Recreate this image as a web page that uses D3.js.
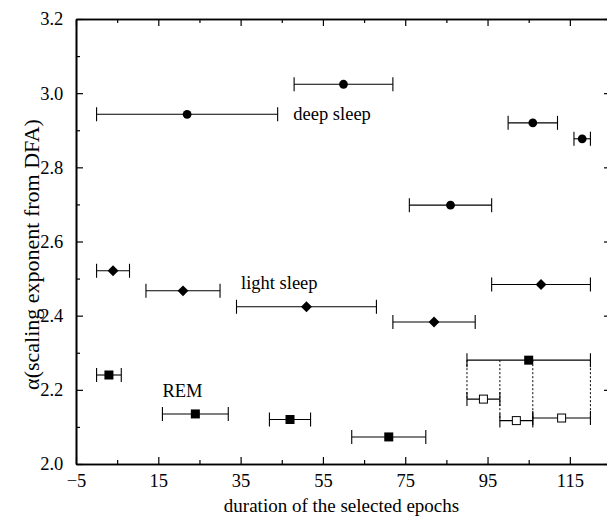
<!DOCTYPE html>
<html>
<head>
<meta charset="utf-8">
<script src="https://cdn.jsdelivr.net/npm/d3@7"></script>
<style>
  body { margin: 0; background: #fff; }
  svg text { font-family: "Liberation Serif", "Times New Roman", Times, serif; fill: #000; }
</style>
</head>
<body>
<div class="chart"></div>
<script>
// deep sleep epochs (filled circles)
const deepDuration = [22, 60, 106, 118, 86];
const deepAlpha    = [2.943, 3.024, 2.920, 2.877, 2.698];
const deepLo       = [0, 48, 100, 116, 76];
const deepHi       = [44, 72, 112, 120, 96];

// light sleep epochs (diamonds)
const lightDuration = [4, 21, 51, 82, 108];
const lightAlpha    = [2.521, 2.467, 2.424, 2.383, 2.484];
const lightLo       = [0, 12, 34, 72, 96];
const lightHi       = [8, 30, 68, 92, 120];

// REM epochs (filled squares)
const remDuration = [3, 24, 47, 71, 105];
const remAlpha    = [2.240, 2.135, 2.120, 2.073, 2.280];
const remLo       = [0, 16, 42, 62, 90];
const remHi       = [6, 32, 52, 80, 120];

// last REM epoch split into parts (open squares)
const subDuration = [94, 102, 113];
const subAlpha    = [2.175, 2.117, 2.124];
const subLo       = [90, 98, 106];
const subHi       = [98, 106, 120];

const xMajor = [-5, 15, 35, 55, 75, 95, 115];
const xMinor = [5, 25, 45, 65, 85, 105, 125];
const yMajor = [2.0, 2.2, 2.4, 2.6, 2.8, 3.0, 3.2];
const yMinor = [2.1, 2.3, 2.5, 2.7, 2.9, 3.1];

const labels = [
    {text: 'deep sleep', x: 47.8, y: 2.945},
    {text: 'light sleep', x: 35.1, y: 2.489},
    {text: 'REM', x: 16, y: 2.197}
];

const w = 607, h = 516;
const m = {left: 76, top: 19, right: 611, bottom: 464};

const svg = d3.select('.chart').append('svg')
    .attr('width', w)
    .attr('height', h);

const x = d3.scaleLinear().domain([-5, 125]).range([m.left, m.right]);
const y = d3.scaleLinear().domain([2.0, 3.2]).range([m.bottom, m.top]);

function zip(dur, a, lo, hi) {
    return dur.map((d, i) => ({dur: d, a: a[i], lo: lo[i], hi: hi[i]}));
}
const deep = zip(deepDuration, deepAlpha, deepLo, deepHi);
const light = zip(lightDuration, lightAlpha, lightLo, lightHi);
const rem = zip(remDuration, remAlpha, remLo, remHi);
const sub = zip(subDuration, subAlpha, subLo, subHi);

// axes, ticks pointing inwards
function styleAxis(g) {
    g.attr('font-family', null);
    g.selectAll('path.domain').attr('stroke', '#000').attr('stroke-width', 1.6);
    g.selectAll('.tick line').attr('stroke', '#000').attr('stroke-width', 1.2);
    g.selectAll('.tick text').style('font-size', '18.5px').attr('fill', '#000');
}

svg.append('g')
    .attr('transform', 'translate(0,' + m.bottom + ')')
    .call(d3.axisBottom(x).tickValues(xMajor).tickFormat(d3.format('d'))
        .tickSize(-7).tickSizeOuter(0).tickPadding(9.5))
    .call(styleAxis);
svg.append('g')
    .attr('transform', 'translate(0,' + m.bottom + ')')
    .call(d3.axisBottom(x).tickValues(xMinor).tickFormat('').tickSize(-4).tickSizeOuter(0))
    .call(styleAxis);
svg.append('g')
    .attr('transform', 'translate(0,' + m.top + ')')
    .call(d3.axisTop(x).tickValues(xMajor).tickFormat('').tickSize(-7).tickSizeOuter(0))
    .call(styleAxis);
svg.append('g')
    .attr('transform', 'translate(0,' + m.top + ')')
    .call(d3.axisTop(x).tickValues(xMinor).tickFormat('').tickSize(-4).tickSizeOuter(0))
    .call(styleAxis);

svg.append('g')
    .attr('transform', 'translate(' + m.left + ',0)')
    .call(d3.axisLeft(y).tickValues(yMajor).tickFormat(d3.format('.1f'))
        .tickSize(-7).tickSizeOuter(0).tickPadding(12.7))
    .call(styleAxis);
svg.append('g')
    .attr('transform', 'translate(' + m.left + ',0)')
    .call(d3.axisLeft(y).tickValues(yMinor).tickFormat('').tickSize(-4).tickSizeOuter(0))
    .call(styleAxis);
svg.append('g')
    .attr('transform', 'translate(' + m.right + ',0)')
    .call(d3.axisRight(y).tickValues(yMajor).tickFormat('').tickSize(-7).tickSizeOuter(0))
    .call(styleAxis);
svg.append('g')
    .attr('transform', 'translate(' + m.right + ',0)')
    .call(d3.axisRight(y).tickValues(yMinor).tickFormat('').tickSize(-4).tickSizeOuter(0))
    .call(styleAxis);

// axis titles
svg.append('text')
    .attr('x', 341.5)
    .attr('y', 512)
    .attr('text-anchor', 'middle')
    .style('font-size', '19px')
    .text('duration of the selected epochs');

svg.append('text')
    .attr('transform', 'translate(38.5,' + ((m.top + m.bottom) / 2 + 13) + ') rotate(-90)')
    .attr('text-anchor', 'middle')
    .style('font-size', '22px')
    .text('α(scaling exponent from DFA)');

// dotted lines joining the long REM epoch to its parts
const bounds = Array.from(new Set(subLo.concat(subHi))).sort(d3.ascending);
const drops = bounds.map(b => ({
    b: b,
    a: d3.min(sub.filter(s => s.lo === b || s.hi === b), s => s.a)
}));
svg.append('g').selectAll('line')
    .data(drops)
    .enter().append('line')
    .attr('x1', d => x(d.b)).attr('x2', d => x(d.b))
    .attr('y1', y(remAlpha[remAlpha.length - 1]))
    .attr('y2', d => y(d.a))
    .attr('stroke', '#000')
    .attr('stroke-width', 1)
    .attr('stroke-dasharray', '2,2');

// error bars
function errorBars(data) {
    const g = svg.append('g').attr('stroke', '#000').attr('stroke-width', 1.1);
    g.selectAll('.bar').data(data).enter().append('line')
        .attr('x1', d => x(d.lo)).attr('x2', d => x(d.hi))
        .attr('y1', d => y(d.a)).attr('y2', d => y(d.a));
    g.selectAll('.capl').data(data).enter().append('line')
        .attr('x1', d => x(d.lo)).attr('x2', d => x(d.lo))
        .attr('y1', d => y(d.a) - 7).attr('y2', d => y(d.a) + 7);
    g.selectAll('.caph').data(data).enter().append('line')
        .attr('x1', d => x(d.hi)).attr('x2', d => x(d.hi))
        .attr('y1', d => y(d.a) - 7).attr('y2', d => y(d.a) + 7);
}
errorBars(deep);
errorBars(light);
errorBars(rem);
errorBars(sub);

// markers
svg.append('g').selectAll('circle').data(deep).enter().append('circle')
    .attr('cx', d => x(d.dur)).attr('cy', d => y(d.a))
    .attr('r', 4.4).attr('fill', '#000');

svg.append('g').selectAll('path').data(light).enter().append('path')
    .attr('d', d3.symbol().type(d3.symbolDiamond2).size(75))
    .attr('transform', d => 'translate(' + x(d.dur) + ',' + y(d.a) + ')')
    .attr('fill', '#000');

svg.append('g').selectAll('rect').data(rem).enter().append('rect')
    .attr('x', d => x(d.dur) - 4.5).attr('y', d => y(d.a) - 4.5)
    .attr('width', 9).attr('height', 9).attr('fill', '#000');

svg.append('g').selectAll('rect').data(sub).enter().append('rect')
    .attr('x', d => x(d.dur) - 4).attr('y', d => y(d.a) - 4)
    .attr('width', 8).attr('height', 8)
    .attr('fill', '#fff').attr('stroke', '#000').attr('stroke-width', 1);

// stage labels
svg.append('g').selectAll('text').data(labels).enter().append('text')
    .attr('x', d => x(d.x)).attr('y', d => y(d.y))
    .attr('dy', '0.35em')
    .style('font-size', '18.5px')
    .text(d => d.text);
</script>
</body>
</html>
